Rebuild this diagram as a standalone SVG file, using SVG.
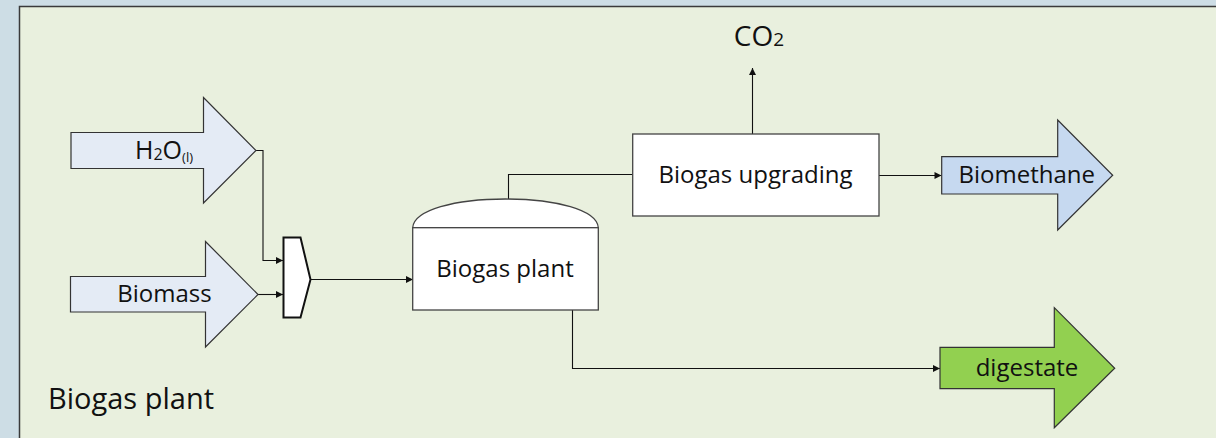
<svg xmlns="http://www.w3.org/2000/svg" width="1216" height="438" viewBox="0 0 1216 438">
<style>
text{font-family:"Open Sans","Noto Sans","Liberation Sans",sans-serif;fill:#111;}
.lbl{font-size:24px;text-anchor:middle;}
.box{fill:#fff;stroke:#444;stroke-width:1.3;}
.flow{stroke:#333;stroke-width:1.2;stroke-linejoin:miter;}
.conn{fill:none;stroke:#111;stroke-width:1.1;}
</style>
<defs>
<marker id="ah" viewBox="0 0 10 10" refX="10" refY="5" markerWidth="9" markerHeight="7" markerUnits="userSpaceOnUse" orient="auto">
<path d="M0,0 L10,5 L0,10 Z" fill="#111"/>
</marker>
</defs>
<rect x="0" y="0" width="1216" height="438" fill="#cddde5"/>
<rect id="panel" x="19.5" y="6.5" width="1210" height="440" fill="#e9f0de" stroke="#3a3a3a" stroke-width="1.5"/>
<text x="48" y="409" style="font-size:29px">Biogas plant</text>

<g id="connectors">
<polyline class="conn" points="256,150.5 263,150.5 263,260.5 283,260.5" marker-end="url(#ah)"/>
<polyline class="conn" points="258,294.5 283,294.5" marker-end="url(#ah)"/>
<polyline class="conn" points="311,279.5 413,279.5" marker-end="url(#ah)"/>
<polyline class="conn" points="508.5,199 508.5,174.5 632.5,174.5"/>
<polyline class="conn" points="752.5,134 752.5,68" marker-end="url(#ah)"/>
<polyline class="conn" points="879,175.5 941.5,175.5" marker-end="url(#ah)"/>
<polyline class="conn" points="572.5,310 572.5,368.5 940,368.5" marker-end="url(#ah)"/>
</g>

<g id="h2o">
<polygon class="flow" points="71,132.5 203.5,132.5 203.5,97.5 256,150.5 203.5,203 203.5,168.5 71,168.5" fill="#e4ebf5"/>
<text class="lbl" x="164" y="159" style="font-size:25px">H<tspan font-size="16" dy="1">2</tspan><tspan dy="-1">O</tspan><tspan font-size="13" dy="3">(l)</tspan></text>
</g>

<g id="biomass">
<polygon class="flow" points="70.5,276.5 205.5,276.5 205.5,241.5 258,294.5 205.5,347 205.5,312 70.5,312" fill="#e4ebf5"/>
<text class="lbl" x="164.5" y="302">Biomass</text>
</g>

<g id="mixer">
<polygon points="283.5,237.5 300.5,237.5 310.5,279.5 300.5,317.5 283.5,317.5" fill="#fff" stroke="#111" stroke-width="2"/>
</g>

<g id="biogas-plant">
<path class="box" d="M412.7,227.7 C414,210 455,199 505.5,199 C556,199 597,210 598.3,227.7 Z"/>
<rect class="box" x="412.7" y="227.7" width="185.6" height="82.3"/>
<text class="lbl" x="505" y="276.5">Biogas plant</text>
</g>

<g id="upgrading">
<rect class="box" x="632.7" y="134" width="246.3" height="82"/>
<text class="lbl" x="755.5" y="182.5">Biogas upgrading</text>
</g>

<g id="co2">
<text x="759" y="46" style="font-size:28px;text-anchor:middle">CO<tspan font-size="19">2</tspan></text>
</g>

<g id="biomethane">
<polygon class="flow" points="941.7,156.7 1057.7,156.7 1057.7,120 1112.7,175.3 1057.7,230 1057.7,194 941.7,194" fill="#c6d9f0"/>
<text class="lbl" x="1026.7" y="182.5">Biomethane</text>
</g>

<g id="digestate">
<polygon class="flow" points="940,347.3 1054.3,347.3 1054.3,307.7 1114.7,368.3 1054.3,427.7 1054.3,388.7 940,388.7" fill="#92d050"/>
<text class="lbl" x="1027" y="375.5">digestate</text>
</g>
</svg>
